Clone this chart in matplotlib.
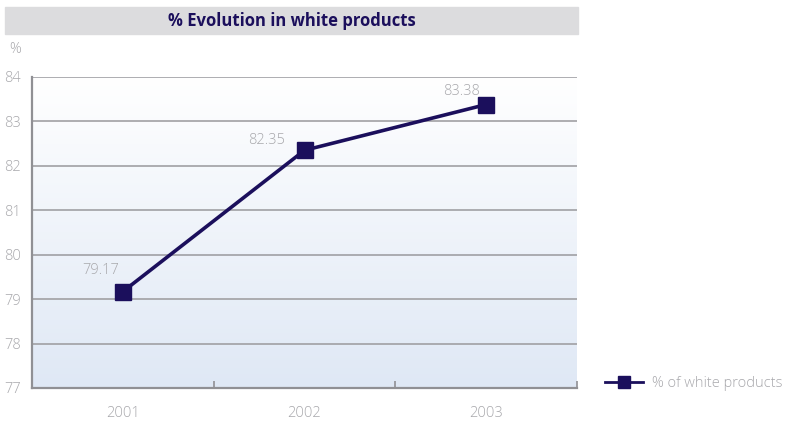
import numpy as np
import matplotlib.pyplot as plt
from matplotlib.patches import Rectangle
from matplotlib.colors import LinearSegmentedColormap

years = ['2001', '2002', '2003']
values = [79.17, 82.35, 83.38]
series_name = '% of white products'
title = '% Evolution in white products'

navy = '#1b0f5c'
grey_txt = '#a8a8ac'

plt.rcParams['font.family'] = ['Open Sans', 'DejaVu Sans']

fig = plt.figure(figsize=(7.95, 4.22), dpi=100)
ax = fig.add_axes([0.0403, 0.0806, 0.6855, 0.737])

x = np.arange(len(years))
ax.set_xlim(-0.5, len(years) - 0.5)
ax.set_ylim(77, 84)

# background gradient, white at top to pale blue at bottom
cmap = LinearSegmentedColormap.from_list('bg', ['#dfe8f5', '#ffffff'])
grad = np.linspace(0, 1, 256).reshape(-1, 1)
ax.imshow(grad, cmap=cmap, origin='lower', aspect='auto',
          extent=(-0.5, len(years) - 0.5, 77, 84), zorder=0)

ax.set_yticks(range(77, 85))
ax.grid(axis='y', color='#a0a0a4', lw=1.2, zorder=1)
ax.set_axisbelow(True)

ax.plot(x, values, color=navy, lw=2.6, marker='s', ms=11, zorder=3,
        label=series_name)
# label offsets (points) as placed in the original
offsets = [(-16, 10), (-27, 2), (-18, 4)]
for xi, v, off in zip(x, values, offsets):
    ax.annotate(f'{v:.2f}', (xi, v), xytext=off, textcoords='offset points',
                ha='center', va='bottom', color=grey_txt, fontsize=10.5,
                fontweight='light')

ax.set_xticks(x)
ax.set_xticklabels(years)
ax.set_xticks(np.arange(-0.5, len(years)), minor=True)
ax.tick_params(axis='x', which='major', length=0, pad=13, labelsize=10.5,
               labelcolor=grey_txt)
ax.tick_params(axis='x', which='minor', direction='in', length=5,
               color='#909094', width=1.2)
ax.tick_params(axis='y', length=0, pad=8, labelsize=10.5, labelcolor=grey_txt)
for t in ax.get_xticklabels() + ax.get_yticklabels():
    t.set_fontweight('light')

for s in ['top', 'right']:
    ax.spines[s].set_visible(False)
for s in ['left', 'bottom']:
    ax.spines[s].set_color('#909094')
    ax.spines[s].set_linewidth(1.6)

# title band
fig.patches.append(Rectangle((0.0063, 0.919), 0.7207, 0.064,
                             transform=fig.transFigure, color='#dcdcde',
                             zorder=0))
fig.text(0.3666, 0.951, title, ha='center', va='center', fontsize=12,
         fontweight='bold', color=navy)
fig.text(0.019, 0.882, '%', ha='center', va='center', fontsize=10.5,
         fontweight='light', color=grey_txt)

leg = fig.legend(loc='center left', bbox_to_anchor=(0.745, 0.092),
                 frameon=False, fontsize=10.5, handlelength=2.6,
                 handletextpad=0.6, markerscale=0.85)
for t in leg.get_texts():
    t.set_color(grey_txt)
    t.set_fontweight('light')
leg.get_lines()[0].set_linewidth(2)

fig.savefig('out.png', dpi=100)
